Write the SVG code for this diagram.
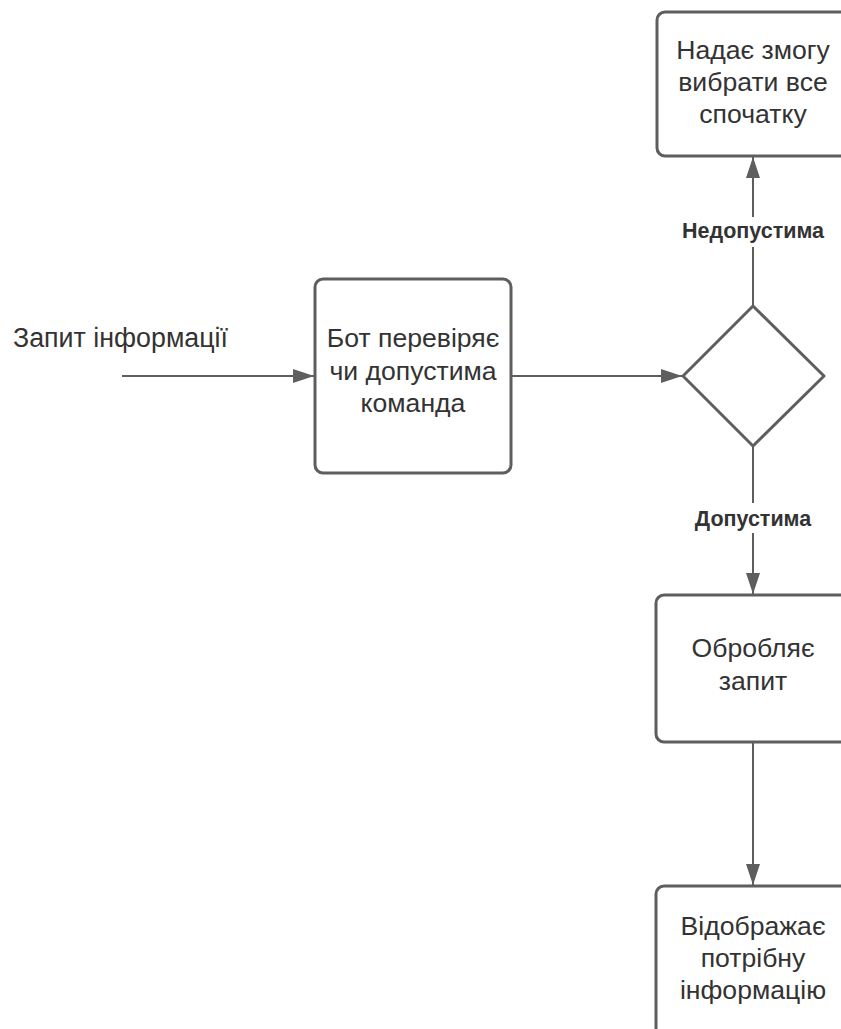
<svg xmlns="http://www.w3.org/2000/svg" width="841" height="1029" viewBox="0 0 841 1029">
  <defs>
    <marker id="arrow" markerUnits="userSpaceOnUse" markerWidth="22" markerHeight="16" refX="21" refY="7" orient="auto">
      <path d="M0,0 L21,7 L0,14 z" fill="#5e5e5e"/>
    </marker>
    <style>
      .box { fill: #ffffff; stroke: #5e5e5e; stroke-width: 3; }
      .edge { fill: none; stroke: #5e5e5e; stroke-width: 2; marker-end: url(#arrow); }
      .txt { font-family: "Liberation Sans", Arial, sans-serif; font-size: 26.6px; fill: #333333; text-anchor: middle; }
      .lbl { font-family: "Liberation Sans", Arial, sans-serif; font-size: 21.5px; font-weight: bold; fill: #333333; text-anchor: middle; }
      .plain { font-family: "Liberation Sans", Arial, sans-serif; font-size: 26.8px; fill: #333333; }
    </style>
  </defs>
  <rect width="841" height="1029" fill="#ffffff"/>

  <!-- connectors -->
  <g id="connectors">
    <path class="edge" d="M122,376 H314"/>
    <path class="edge" d="M511,376 H682"/>
    <path class="edge" d="M753,306 V157"/>
    <path class="edge" d="M753,446 V594"/>
    <path class="edge" d="M753,742 V885"/>
    <rect x="678" y="217" width="150" height="30" fill="#ffffff"/>
    <text class="lbl" x="753" y="237.5">Недопустима</text>
    <rect x="690" y="503" width="126" height="30" fill="#ffffff"/>
    <text class="lbl" x="753" y="525.5">Допустима</text>
  </g>

  <!-- start label -->
  <g id="start">
    <text class="plain" x="13" y="347">Запит інформації</text>
  </g>

  <!-- check command -->
  <g id="check">
    <rect class="box" x="315" y="279" width="196" height="194" rx="8"/>
    <text class="txt" x="413" y="347">Бот перевіряє</text>
    <text class="txt" x="413" y="380">чи допустима</text>
    <text class="txt" x="413" y="412">команда</text>
  </g>

  <!-- decision -->
  <g id="decision">
    <path class="box" stroke-linejoin="round" d="M753,306 L824,376 L753,446 L683,376 Z"/>
  </g>

  <!-- retry option -->
  <g id="retry">
    <rect class="box" x="657" y="12" width="196" height="144" rx="8"/>
    <text class="txt" x="753" y="59">Надає змогу</text>
    <text class="txt" x="753" y="91">вибрати все</text>
    <text class="txt" x="753" y="123">спочатку</text>
  </g>

  <!-- process request -->
  <g id="process">
    <rect class="box" x="656" y="595" width="196" height="147" rx="8"/>
    <text class="txt" x="753" y="657">Обробляє</text>
    <text class="txt" x="753" y="690">запит</text>
  </g>

  <!-- show result -->
  <g id="show">
    <rect class="box" x="656" y="886" width="196" height="170" rx="8"/>
    <text class="txt" x="753" y="935">Відображає</text>
    <text class="txt" x="753" y="967">потрібну</text>
    <text class="txt" x="753" y="999">інформацію</text>
  </g>
</svg>
